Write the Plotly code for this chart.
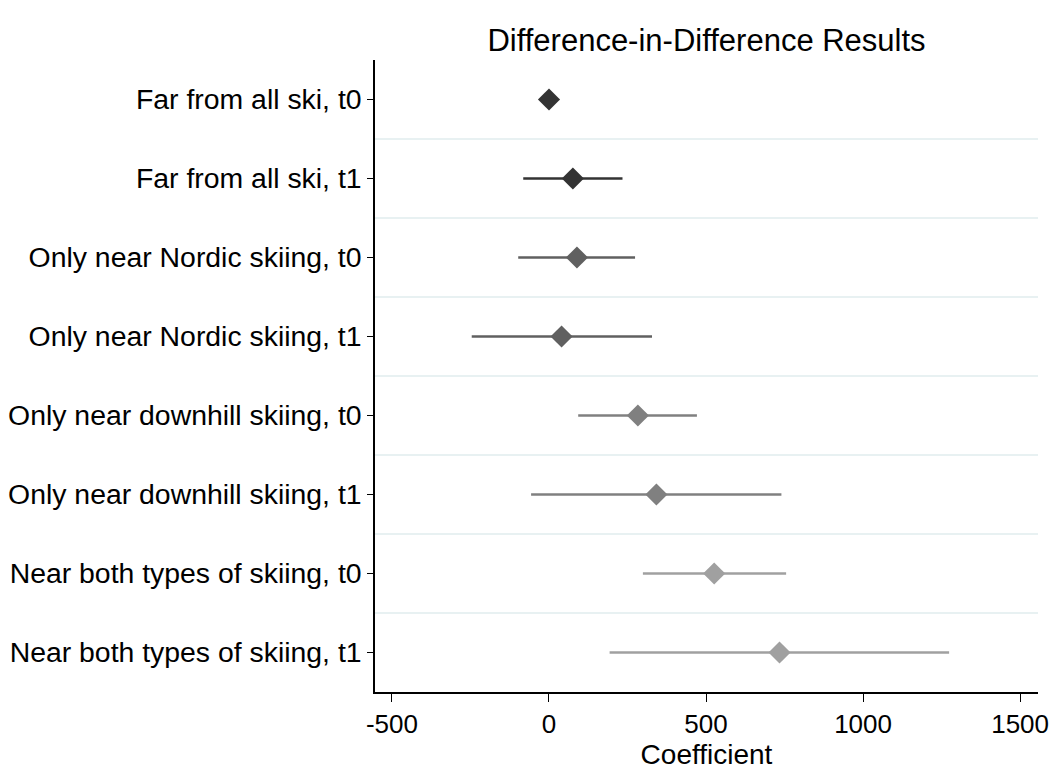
import plotly.graph_objects as go

categories = [
    "Far from all ski, t0",
    "Far from all ski, t1",
    "Only near Nordic skiing, t0",
    "Only near Nordic skiing, t1",
    "Only near downhill skiing, t0",
    "Only near downhill skiing, t1",
    "Near both types of skiing, t0",
    "Near both types of skiing, t1",
]
coef = [0, 76, 89, 40, 283, 342, 526, 734]
ci_low = [0, -82, -98, -246, 93, -57, 299, 193]
ci_high = [0, 234, 274, 328, 471, 740, 755, 1274]
colors = ["#333333", "#333333", "#606060", "#606060",
          "#808080", "#808080", "#a0a0a0", "#a0a0a0"]
x_ticks = [-500, 0, 500, 1000, 1500]

font_family = "Liberation Sans, Arial, sans-serif"

W, H = 1051, 771
ML, MR, MT, MB = 375, 13, 60, 79

fig = go.Figure()
for i, cat in enumerate(categories):
    if ci_high[i] != ci_low[i]:
        fig.add_trace(go.Scatter(
            x=[ci_low[i], ci_high[i]], y=[i, i], mode="lines",
            line=dict(color=colors[i], width=2.5), showlegend=False,
            hoverinfo="skip"))
    fig.add_trace(go.Scatter(
        x=[coef[i]], y=[i], mode="markers",
        marker=dict(symbol="diamond", size=17, color=colors[i]),
        showlegend=False, name=cat))

grid_shapes = [
    dict(type="line", xref="paper", x0=0, x1=1, yref="y",
         y0=i + 0.5, y1=i + 0.5, line=dict(color="#e8f1f2", width=2),
         layer="below")
    for i in range(len(categories) - 1)
]

fig.update_layout(
    width=W, height=H, autosize=False,
    margin=dict(l=ML, r=MR, t=MT, b=MB, pad=0, autoexpand=False),
    plot_bgcolor="white", paper_bgcolor="white",
    font=dict(family=font_family, size=27, color="black"),
    title=dict(text="Difference-in-Difference Results",
               x=(ML + (W - MR)) / 2 / W, xanchor="center",
               y=1 - 40 / H, yanchor="middle",
               font=dict(size=31, color="black")),
    shapes=grid_shapes,
    xaxis=dict(range=[-554, 1557], tickvals=x_ticks,
               ticktext=[str(v) for v in x_ticks],
               automargin=False,
               showgrid=False, zeroline=False, showline=True,
               linecolor="black", linewidth=1.5, ticks="outside",
               ticklen=8, tickcolor="black",
               tickfont=dict(size=26),
               title=dict(text="Coefficient", font=dict(size=28), standoff=0)),
    yaxis=dict(range=[len(categories) - 0.5, -0.5],
               tickvals=list(range(len(categories))), ticktext=categories,
               automargin=False,
               showgrid=False, zeroline=False, showline=True,
               linecolor="black", linewidth=1.5, ticks="outside",
               ticklen=6, tickcolor="black", tickfont=dict(size=28.4)),
)

fig.write_html(
    "out.html",
    config={"responsive": False, "displayModeBar": False},
    post_script="document.body.style.margin='0';document.body.style.overflow='hidden';",
)
